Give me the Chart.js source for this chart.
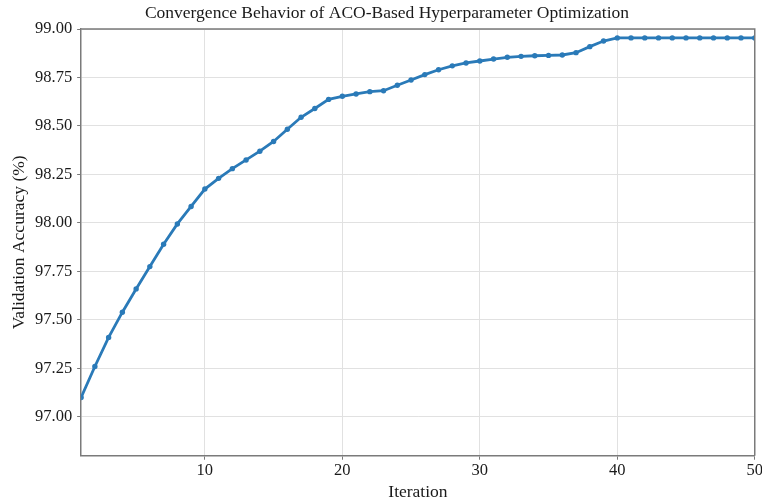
<!DOCTYPE html>
<html>
<head>
<meta charset="utf-8">
<script src="https://cdn.jsdelivr.net/npm/chart.js@4.4.0/dist/chart.umd.min.js"></script>
<style>
  html, body { margin: 0; padding: 0; background: #fff; overflow: hidden; }
  #wrap { position: relative; width: 765px; height: 502px; }
</style>
</head>
<body>
<div id="wrap"><canvas id="convergenceChart"></canvas></div>
<script>
// Convergence curve
const iterations = [1, 2, 3, 4, 5, 6, 7, 8, 9, 10,
  11, 12, 13, 14, 15, 16, 17, 18, 19, 20,
  21, 22, 23, 24, 25, 26, 27, 28, 29, 30,
  31, 32, 33, 34, 35, 36, 37, 38, 39, 40,
  41, 42, 43, 44, 45, 46, 47, 48, 49, 50];
const accuracy = [97.10, 97.26, 97.41, 97.54, 97.66, 97.775, 97.89, 97.995, 98.085, 98.175,
  98.23, 98.28, 98.325, 98.37, 98.42, 98.483, 98.545, 98.59, 98.637, 98.653,
  98.665, 98.677, 98.682, 98.71, 98.737, 98.765, 98.79, 98.81, 98.825, 98.835,
  98.845, 98.854, 98.859, 98.862, 98.864, 98.866, 98.878, 98.909, 98.938, 98.954,
  98.954, 98.954, 98.954, 98.954, 98.954, 98.954, 98.954, 98.954, 98.954, 98.954];
const xTicks = [10, 20, 30, 40, 50];
const yTicks = [97.00, 97.25, 97.50, 97.75, 98.00, 98.25, 98.50, 98.75, 99.00];

const serif = "'Liberation Serif', 'DejaVu Serif', serif";
const axisGray = '#7a7a7a';
const gridGray = '#e1e1e1';

// draws the top and right spines so the plot is boxed in
const frameBox = {
    id: 'frameBox',
    afterDraw(chart) {
        const { ctx, chartArea } = chart;
        ctx.save();
        ctx.strokeStyle = axisGray;
        ctx.lineWidth = 1.5;
        ctx.beginPath();
        ctx.moveTo(chartArea.left, chartArea.top);
        ctx.lineTo(chartArea.right, chartArea.top);
        ctx.lineTo(chartArea.right, chartArea.bottom);
        ctx.stroke();
        ctx.restore();
    }
};

const ctx = document.getElementById('convergenceChart');
new Chart(ctx, {
    type: 'line',
    data: {
        datasets: [{
            data: iterations.map((it, i) => ({ x: it, y: accuracy[i] })),
            borderColor: '#2a7ab8',
            backgroundColor: '#2a7ab8',
            borderWidth: 2.8,
            pointRadius: 2.7,
            pointBorderWidth: 0,
            tension: 0,
            fill: false
        }]
    },
    options: {
        responsive: true,
        maintainAspectRatio: false,
        animation: false,
        layout: { padding: { left: 9, right: 0, top: 0, bottom: 0 } },
        plugins: {
            legend: { display: false },
            tooltip: { enabled: false },
            title: {
                display: true,
                text: 'Convergence Behavior of ACO-Based Hyperparameter Optimization',
                color: '#1a1a1a',
                font: { family: serif, size: 17.5, weight: 'normal' },
                padding: { top: 3, bottom: 5 }
            }
        },
        scales: {
            x: {
                type: 'linear',
                min: 1,
                max: 50,
                afterBuildTicks: axis => { axis.ticks = xTicks.map(v => ({ value: v })); },
                grid: { color: gridGray, lineWidth: 1, tickColor: axisGray, tickLength: 4 },
                border: { color: axisGray, width: 1.5 },
                ticks: {
                    color: '#1a1a1a',
                    font: { family: serif, size: 16.5, lineHeight: 1.1 },
                    padding: 2,
                    maxRotation: 0
                },
                title: {
                    display: true,
                    text: 'Iteration',
                    color: '#1a1a1a',
                    font: { family: serif, size: 17.5, lineHeight: 1.15 },
                    padding: { top: 0, bottom: 0 }
                }
            },
            y: {
                min: 96.8,
                max: 99.0,
                afterBuildTicks: axis => { axis.ticks = yTicks.map(v => ({ value: v })); },
                grid: { color: gridGray, lineWidth: 1, tickColor: axisGray, tickLength: 4 },
                border: { color: axisGray, width: 1.5 },
                ticks: {
                    color: '#1a1a1a',
                    font: { family: serif, size: 16.5 },
                    padding: 5,
                    callback: v => Number(v).toFixed(2)
                },
                title: {
                    display: true,
                    text: 'Validation Accuracy (%)',
                    color: '#1a1a1a',
                    font: { family: serif, size: 17.5 },
                    padding: { top: 0, bottom: 0 }
                }
            }
        }
    },
    plugins: [frameBox]
});
</script>
</body>
</html>
